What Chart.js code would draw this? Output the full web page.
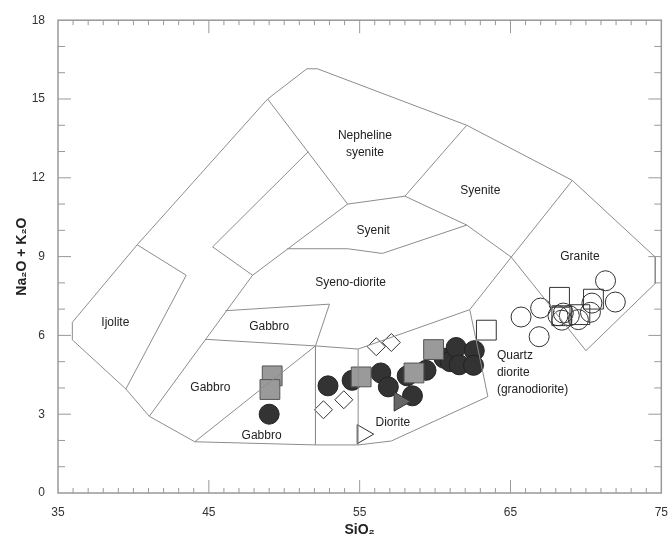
<!DOCTYPE html>
<html>
<head>
<meta charset="utf-8">
<script src="https://cdn.jsdelivr.net/npm/chart.js@4.4.1/dist/chart.umd.min.js"></script>
<style>
  html, body { margin: 0; padding: 0; overflow: hidden; background: #fff; }
</style>
</head>
<body>
<canvas id="tas" width="680" height="543"></canvas>
<script>
var FONT = "'Liberation Sans', Arial, 'DejaVu Sans', sans-serif";

var xTicks = [35, 45, 55, 65, 75];
var yTicks = [0, 3, 6, 9, 12, 15, 18];

// field boundaries (SiO2, Na2O+K2O)
var outerTop = [[35.95, 5.83], [35.95, 6.5], [40.25, 9.45], [48.9, 15.0], [51.5, 16.15], [52.2, 16.15],
  [62.1, 14.0], [69.1, 11.9], [74.6, 8.98], [74.6, 7.98], [70.0, 5.42]];
var outerBottom = [[35.95, 5.83], [39.5, 3.96], [41.05, 2.92], [44.07, 1.95], [52.07, 1.83],
  [54.9, 1.83], [57.1, 1.98], [63.5, 3.67]];
var ijoliteRight = [[40.25, 9.45], [43.5, 8.29], [39.5, 3.96]];
var stripRight = [[51.6, 13.0], [45.25, 9.37], [47.9, 8.29], [41.05, 2.92]];
var nephSyenite = [[48.9, 15.0], [54.2, 11.0], [58.0, 11.3], [62.1, 14.0]];
var syenitLeft = [[47.9, 8.29], [54.2, 11.0]];
var syenitBase = [[50.2, 9.3], [54.2, 9.3], [56.5, 9.12], [62.1, 10.2]];
var syeniteBase = [[58.0, 11.3], [62.1, 10.2], [65.05, 8.98]];
var graniteLeft = [[69.1, 11.9], [65.05, 8.98], [70.0, 5.42]];
var gabbroTop = [[46.1, 6.94], [53.0, 7.19], [52.07, 5.6], [52.07, 1.83]];
var gabbroBase = [[44.8, 5.85], [52.07, 5.6], [54.9, 5.48], [62.3, 6.98], [65.05, 8.98]];
var gabbroSplit = [[44.07, 1.95], [52.07, 5.6]];
var dioriteLeft = [[54.9, 1.83], [54.9, 5.48]];
var dioriteRight = [[62.3, 6.98], [63.5, 3.67]];

var boundaries = [outerTop, outerBottom, ijoliteRight, stripRight, nephSyenite, syenitLeft, syenitBase,
  syeniteBase, graniteLeft, gabbroTop, gabbroBase, gabbroSplit, dioriteLeft, dioriteRight];

// samples
var darkCircles = [[49.0, 3.0], [52.9, 4.08], [54.5, 4.29], [56.4, 4.57], [56.9, 4.04], [58.15, 4.46],
  [58.5, 3.7], [59.4, 4.67], [60.6, 5.13], [61.0, 5.0], [61.4, 5.54], [61.6, 4.88], [62.6, 5.42], [62.55, 4.86]];
var graySquares = [[49.2, 4.46], [49.05, 3.94], [55.1, 4.42], [58.6, 4.57], [59.9, 5.46]];
var grayTriangles = [[57.65, 3.48]];
var openTriangles = [[55.2, 2.24]];
var openDiamonds = [[52.6, 3.17], [53.95, 3.55], [56.1, 5.57], [57.1, 5.73]];
var openSquares = [[63.4, 6.2], [68.25, 7.45], [70.5, 7.38], [69.6, 6.79], [68.4, 6.75]];
var openCircles = [[71.3, 8.08], [71.95, 7.27], [65.7, 6.7], [66.9, 5.95], [67.0, 7.04], [68.15, 6.75],
  [68.5, 6.85], [68.9, 6.75], [68.4, 6.58], [69.5, 6.6], [70.3, 6.88], [70.4, 7.23]];

// field names
var fieldNames = [
  { text: ['Nepheline', 'syenite'], x: 55.35, y: 13.6 },
  { text: ['Syenite'], x: 63.0, y: 11.5 },
  { text: ['Syenit'], x: 55.9, y: 10.0 },
  { text: ['Syeno-diorite'], x: 54.4, y: 8.0 },
  { text: ['Granite'], x: 69.6, y: 8.98 },
  { text: ['Ijolite'], x: 38.8, y: 6.48 },
  { text: ['Gabbro'], x: 49.0, y: 6.33 },
  { text: ['Gabbro'], x: 45.1, y: 4.02 },
  { text: ['Gabbro'], x: 48.5, y: 2.17 },
  { text: ['Diorite'], x: 57.2, y: 2.67 },
  { text: ['Quartz', 'diorite', '(granodiorite)'], x: 64.1, y: 5.24, align: 'left' }
];

var datasets = boundaries.map(function (b) {
  return { type: 'line', data: b, borderColor: '#8c8c8c', borderWidth: 1, pointRadius: 0, fill: false, tension: 0 };
});

function marker(data, style, radius, fill, border, rotation) {
  return { data: data, pointStyle: style, pointRadius: radius, pointBackgroundColor: fill,
    pointBorderColor: border, pointBorderWidth: 1, pointRotation: rotation || 0, showLine: false };
}

datasets.push(marker(openCircles, 'circle', 10, 'rgba(255,255,255,0)', '#333'));
datasets.push(marker(openSquares, 'rect', 14, 'rgba(255,255,255,0)', '#333'));
datasets.push(marker(openDiamonds, 'rectRot', 9, '#fff', '#333'));
datasets.push(marker(openTriangles, 'triangle', 11, '#fff', '#333', 90));
datasets.push(marker(graySquares, 'rect', 14, '#9a9a9a', '#555'));
datasets.push(marker(grayTriangles, 'triangle', 11, '#666', '#333', 90));
datasets.push(marker(darkCircles, 'circle', 10, '#333', '#222'));

var framePlugin = {
  id: 'framePlugin',
  beforeDatasetsDraw: function (chart) {
    var ctx = chart.ctx, a = chart.chartArea, x = chart.scales.x, y = chart.scales.y;
    ctx.save();
    ctx.strokeStyle = '#999';
    ctx.lineWidth = 1.5;
    ctx.strokeRect(a.left, a.top, a.right - a.left, a.bottom - a.top);
    ctx.lineWidth = 1;
    ctx.beginPath();
    for (var v = 36; v < 75; v++) {
      var len = xTicks.indexOf(v) >= 0 ? 13 : 5;
      var px = x.getPixelForValue(v);
      ctx.moveTo(px, a.bottom); ctx.lineTo(px, a.bottom - len);
      ctx.moveTo(px, a.top); ctx.lineTo(px, a.top + len);
    }
    for (var w = 1; w < 18; w++) {
      var l2 = yTicks.indexOf(w) >= 0 ? 13 : 7;
      var py = y.getPixelForValue(w);
      ctx.moveTo(a.left, py); ctx.lineTo(a.left + l2, py);
      ctx.moveTo(a.right, py); ctx.lineTo(a.right - l2, py);
    }
    ctx.stroke();

    // field names
    ctx.fillStyle = '#222';
    ctx.font = '12px ' + FONT;
    ctx.textBaseline = 'middle';
    fieldNames.forEach(function (f) {
      ctx.textAlign = f.align || 'center';
      var fx = x.getPixelForValue(f.x), fy = y.getPixelForValue(f.y);
      f.text.forEach(function (t, i) { ctx.fillText(t, fx, fy + i * 17); });
    });
    ctx.restore();
  }
};

new Chart(document.getElementById('tas'), {
  type: 'scatter',
  data: { datasets: datasets },
  options: {
    responsive: false,
    animation: false,
    layout: { padding: { top: 13, right: 18, left: 0, bottom: 0 } },
    plugins: { legend: { display: false }, tooltip: { enabled: false } },
    scales: {
      x: {
        type: 'linear', min: 35, max: 75,
        afterBuildTicks: function (s) { s.ticks = xTicks.map(function (v) { return { value: v }; }); },
        afterFit: function (s) { s.height = 50; },
        grid: { display: false, drawTicks: false },
        border: { display: false },
        ticks: { color: '#333', font: { size: 12, family: FONT }, padding: 12 },
        title: { display: true, text: 'SiO₂', color: '#222', font: { size: 14, weight: 'bold', family: FONT }, padding: { top: 0, bottom: 4 } }
      },
      y: {
        type: 'linear', min: 0, max: 18,
        afterBuildTicks: function (s) { s.ticks = yTicks.map(function (v) { return { value: v }; }); },
        afterFit: function (s) { s.width = 58; },
        grid: { display: false, drawTicks: false },
        border: { display: false },
        ticks: { color: '#333', font: { size: 12, family: FONT }, padding: 13 },
        title: { display: true, text: 'Na₂O + K₂O', color: '#222', font: { size: 14, weight: 'bold', family: FONT }, padding: { top: 14, bottom: 0 } }
      }
    }
  },
  plugins: [framePlugin]
});
</script>
</body>
</html>
